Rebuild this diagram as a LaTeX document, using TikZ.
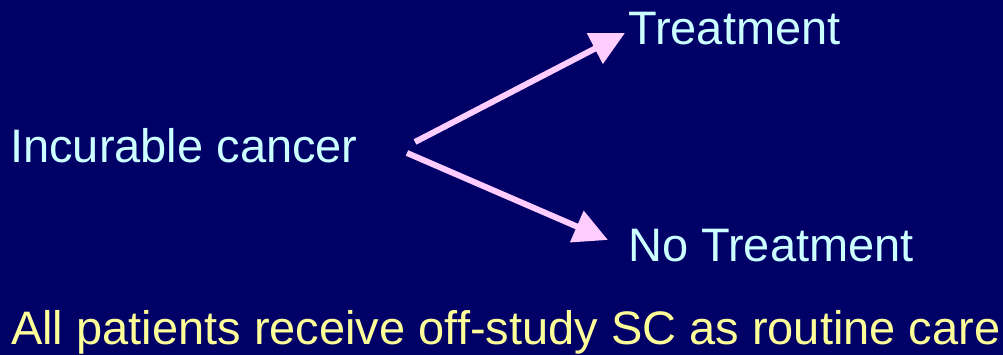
\documentclass[tikz,border=0pt]{standalone}
\usepackage{fontspec}
\setmainfont{Liberation Sans}
\usetikzlibrary{arrows.meta}
\definecolor{SlideNavy}{HTML}{000066}
\definecolor{ArmCyan}{HTML}{CCFFFF}
\definecolor{ArrowPink}{HTML}{FFCCFF}
\definecolor{NoteYellow}{HTML}{FFFF99}

\begin{document}
\begin{tikzpicture}[x=1pt, y=1pt, >={Triangle[length=34pt,width=33pt]},
  arm/.style={text=ArmCyan, font=\fontsize{47}{56}\selectfont,
    inner sep=0pt, anchor=base west},
  branch/.style={->, ArrowPink, line width=6pt}]
  \fill[SlideNavy] (0,0) rectangle (1003,355);
  \useasboundingbox (0,0) rectangle (1003,355);

  \node[arm] (cancer) at (10,192) {Incurable cancer};
  \node[arm] (treat) at (628,310) {Treatment};
  \node[arm] (notreat) at (628,93) {No Treatment};
  \node[arm, text=NoteYellow] (care) at (11,10)
    {All patients receive off-study SC as routine care};

  \coordinate (upstart) at (415,213);
  \coordinate (downstart) at (407,202);
  \coordinate (uptip) at (625,322);
  \coordinate (downtip) at (608,115);
  \draw[branch] (upstart) -- (uptip);
  \draw[branch] (downstart) -- (downtip);
\end{tikzpicture}
\end{document}
